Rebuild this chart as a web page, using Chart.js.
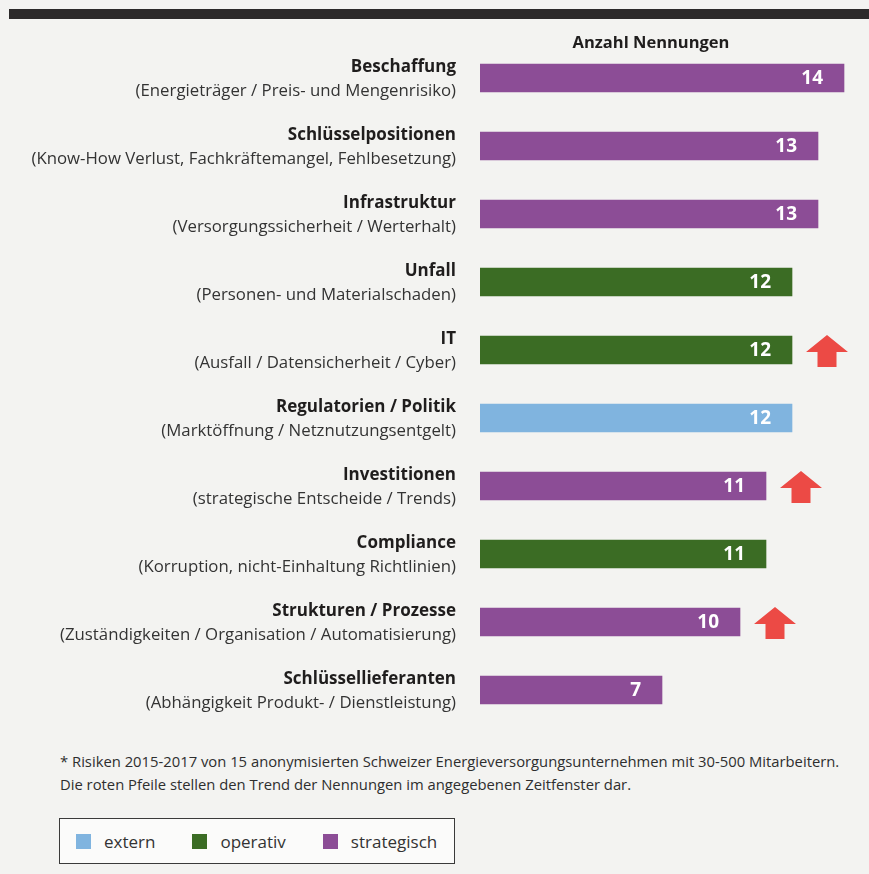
<!DOCTYPE html>
<html lang="de">
<head>
<meta charset="utf-8">
<title>Anzahl Nennungen</title>
<script src="https://cdn.jsdelivr.net/npm/chart.js@4.4.1/dist/chart.umd.min.js"></script>
<style>
    html, body {
        margin: 0;
        padding: 0;
    }
    body {
        width: 869px;
        height: 874px;
        overflow: hidden;
        position: relative;
        background: #f3f3f1;
        font-family: "Open Sans", sans-serif;
        color: #2b2b2b;
    }
    #top-rule {
        position: absolute;
        left: 9px;
        top: 9px;
        width: 860px;
        height: 10px;
        background: #2c2a2a;
    }
    #chart-wrap {
        position: absolute;
        left: 0;
        top: 0;
        width: 869px;
        height: 740px;
    }
    #footnote {
        position: absolute;
        left: 60px;
        top: 750px;
        font-size: 14.8px;
        line-height: 23px;
        color: #2e2e2e;
        white-space: nowrap;
    }
    #legend {
        position: absolute;
        left: 59px;
        top: 818px;
        width: 396px;
        height: 46px;
        border: 1.5px solid #3a3a3a;
        background: #fbfbfa;
        display: flex;
        align-items: center;
        padding-left: 16px;
        box-sizing: border-box;
    }
    .legend-item {
        display: flex;
        align-items: center;
        margin-right: 37px;
        font-size: 17px;
        color: #333;
    }
    .legend-swatch {
        width: 15px;
        height: 15px;
        margin-right: 13px;
    }
</style>
</head>
<body>
<div id="top-rule"></div>
<div id="chart-wrap"><canvas id="risk-chart" width="869" height="740"></canvas></div>
<div id="footnote">
    <div>* Risiken 2015-2017 von 15 anonymisierten Schweizer Energieversorgungsunternehmen mit 30-500 Mitarbeitern.</div>
    <div>Die roten Pfeile stellen den Trend der Nennungen im angegebenen Zeitfenster dar.</div>
</div>
<div id="legend"></div>

<script>
const categories = [
    'Beschaffung',
    'Schlüsselpositionen',
    'Infrastruktur',
    'Unfall',
    'IT',
    'Regulatorien / Politik',
    'Investitionen',
    'Compliance',
    'Strukturen / Prozesse',
    'Schlüssellieferanten',
];
const descriptions = [
    '(Energieträger / Preis- und Mengenrisiko)',
    '(Know-How Verlust, Fachkräftemangel, Fehlbesetzung)',
    '(Versorgungssicherheit / Werterhalt)',
    '(Personen- und Materialschaden)',
    '(Ausfall / Datensicherheit / Cyber)',
    '(Marktöffnung / Netznutzungsentgelt)',
    '(strategische Entscheide / Trends)',
    '(Korruption, nicht-Einhaltung Richtlinien)',
    '(Zuständigkeiten / Organisation / Automatisierung)',
    '(Abhängigkeit Produkt- / Dienstleistung)',
];
const mentions = [14, 13, 13, 12, 12, 12, 11, 11, 10, 7];
const riskTypes = [
    'strategisch', 'strategisch', 'strategisch', 'operativ', 'operativ',
    'extern', 'strategisch', 'operativ', 'strategisch', 'strategisch',
];
const risingTrend = [false, false, false, false, true, false, true, false, true, false];

const typeLabels = ['extern', 'operativ', 'strategisch'];
const typeColors = ['#80b4df', '#3b6c24', '#8c4d96'];

const arrowColor = '#ec4a45';

// Two-line labels left of the bars: bold name, light description below
const categoryLabelsPlugin = {
    id: 'categoryLabels',
    afterDraw: (chart) => {
        const { ctx, chartArea, scales } = chart;
        const right = chartArea.left - 24;
        ctx.save();
        ctx.textAlign = 'right';
        ctx.textBaseline = 'middle';
        categories.forEach((name, i) => {
            const y = scales.y.getPixelForValue(i);
            ctx.fillStyle = '#1f1d1d';
            ctx.font = 'bold 17px "Open Sans"';
            ctx.fillText(name, right, y - 11);
            ctx.fillStyle = '#333333';
            ctx.font = '16.8px "Open Sans"';
            ctx.fillText(descriptions[i], right, y + 13);
        });

        ctx.textAlign = 'center';
        ctx.fillStyle = '#1f1d1d';
        ctx.font = 'bold 16.5px "Open Sans"';
        ctx.fillText('Anzahl Nennungen', chartArea.left + 171, chartArea.top - 1);
        ctx.restore();
    }
};

// White value inside the end of each bar, plus red arrow where the trend is rising
const valueLabelsPlugin = {
    id: 'valueLabels',
    afterDatasetsDraw: (chart) => {
        const { ctx } = chart;
        const meta = chart.getDatasetMeta(0);
        ctx.save();
        meta.data.forEach((bar, i) => {
            ctx.fillStyle = '#ffffff';
            ctx.font = 'bold 19px "Open Sans"';
            ctx.textAlign = 'right';
            ctx.textBaseline = 'middle';
            ctx.fillText(String(mentions[i]), bar.x - 21, bar.y + 1);

            if (risingTrend[i]) {
                const left = bar.x + 14;
                const w = 42;
                const shaft = 19;
                const top = bar.y - 15;
                const mid = left + w / 2;
                ctx.fillStyle = arrowColor;
                ctx.beginPath();
                ctx.moveTo(mid, top);
                ctx.lineTo(left + w, top + 17);
                ctx.lineTo(mid + shaft / 2, top + 17);
                ctx.lineTo(mid + shaft / 2, top + 32);
                ctx.lineTo(mid - shaft / 2, top + 32);
                ctx.lineTo(mid - shaft / 2, top + 17);
                ctx.lineTo(left, top + 17);
                ctx.closePath();
                ctx.fill();
            }
        });
        ctx.restore();
    }
};

const renderRiskChart = () => {
    const context = document.querySelector('canvas#risk-chart').getContext('2d');

    return new Chart(context, {
        type: 'bar',
        data: {
            labels: categories,
            datasets: [
                {
                    label: 'Anzahl Nennungen',
                    data: mentions,
                    backgroundColor: riskTypes.map(type => typeColors[typeLabels.indexOf(type)]),
                    barThickness: 28,
                }
            ]
        },
        options: {
            responsive: false,
            animation: false,
            indexAxis: 'y',
            layout: {
                padding: { left: 480, right: 12, top: 44, bottom: 16 }
            },
            scales: {
                x: {
                    display: false,
                    min: 0,
                    max: 14.5,
                },
                y: {
                    display: false,
                }
            },
            plugins: {
                legend: { display: false },
                tooltip: { enabled: false }
            }
        },
        plugins: [categoryLabelsPlugin, valueLabelsPlugin]
    });
};

const populateLegend = () => {
    const legend = document.querySelector('div#legend');
    const items = typeLabels.map((label, i) => {
        const item = document.createElement('div');
        item.className = 'legend-item';
        const swatch = document.createElement('span');
        swatch.className = 'legend-swatch';
        swatch.style.background = typeColors[i];
        const text = document.createElement('span');
        text.textContent = label;
        item.append(swatch, text);
        return item;
    });
    legend.replaceChildren(...items);
};

document.addEventListener('DOMContentLoaded', () => {
    populateLegend();
    renderRiskChart();
});
</script>
</body>
</html>
